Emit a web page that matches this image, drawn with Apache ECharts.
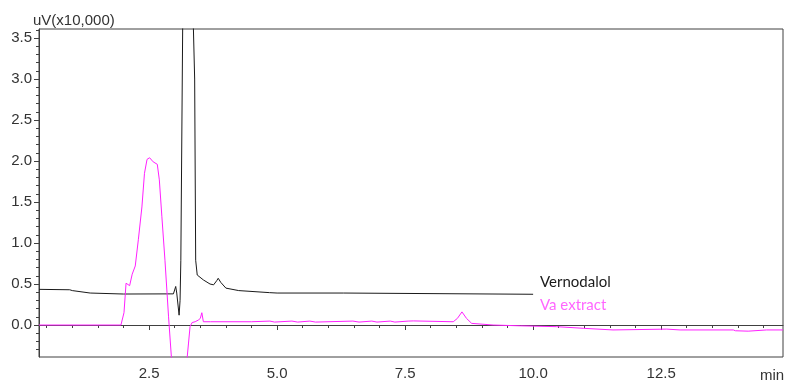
<!DOCTYPE html>
<html>
<head>
<meta charset="utf-8">
<script src="https://cdn.jsdelivr.net/npm/echarts@6/dist/echarts.min.js"></script>
<style>
  html, body { margin: 0; padding: 0; background: #fff; }
  #chart { width: 785px; height: 383px; }
</style>
</head>
<body>
<div id="chart"></div>
<script>
// Retention time (min) and detector response (uV x10,000) for each trace
const vernodalolTime = [0.35, 0.95, 1.0, 1.35, 1.37, 2.0, 2.975, 3.02, 3.04, 3.086, 3.105, 3.12, 3.158, 3.26, 3.362, 3.39, 3.41, 3.44, 3.56, 3.69, 3.76, 3.82, 3.85, 3.9, 4.0, 4.25, 4.85, 5.0, 6.3, 6.32, 10.0];
const vernodalolSignal = [0.435, 0.43, 0.42, 0.39, 0.385, 0.378, 0.38, 0.47, 0.39, 0.12, 0.3, 0.79, 3.8, 4.6, 3.7, 3.0, 0.79, 0.61, 0.55, 0.5, 0.49, 0.54, 0.57, 0.52, 0.45, 0.42, 0.395, 0.39, 0.39, 0.375, 0.375];

const extractTime = [0.35, 1.95, 1.98, 2.01, 2.05, 2.08, 2.12, 2.17, 2.23, 2.29, 2.36, 2.41, 2.46, 2.51, 2.58, 2.66, 2.70, 2.75, 2.81, 2.88, 2.94, 3.05, 3.15, 3.24, 3.27, 3.30, 3.34, 3.40, 3.46, 3.50, 3.53, 3.56, 3.7, 4.5, 4.86, 4.95, 5.29, 5.4, 5.64, 5.75, 6.48, 6.6, 6.85, 6.95, 7.21, 7.3, 7.56, 7.66, 8.44, 8.52, 8.61, 8.70, 8.80, 9.22, 9.75, 10.46, 10.98, 11.56, 12.61, 12.87, 13.91, 13.95, 14.2, 14.56, 14.88];
const extractSignal = [0.0, 0.0, 0.02, 0.15, 0.51, 0.53, 0.48, 0.62, 0.72, 1.04, 1.44, 1.85, 2.02, 2.04, 1.99, 1.96, 1.77, 1.32, 0.79, 0.10, -0.43, -1.2, -1.2, -0.42, -0.22, -0.02, 0.03, 0.04, 0.06, 0.08, 0.15, 0.04, 0.04, 0.04, 0.048, 0.036, 0.048, 0.036, 0.048, 0.036, 0.048, 0.036, 0.048, 0.036, 0.048, 0.036, 0.048, 0.05, 0.04, 0.08, 0.16, 0.08, 0.02, 0.0, -0.01, -0.02, -0.04, -0.06, -0.05, -0.06, -0.06, -0.07, -0.075, -0.06, -0.06];

// Axis ticks and labels
const timeLabels = [2.5, 5.0, 7.5, 10.0, 12.5];
const timeMinorTicks = [0.5, 1.0, 1.5, 2.0, 2.5, 3.0, 3.5, 4.0, 4.5, 5.0, 5.5, 6.0, 6.5, 7.0, 7.5, 8.0, 8.5, 9.0, 9.5, 10.0, 10.5, 11.0, 11.5, 12.0, 12.5, 13.0, 13.5, 14.0, 14.5];
const signalLabels = [0.0, 0.5, 1.0, 1.5, 2.0, 2.5, 3.0, 3.5];
const signalMinorTicks = [-0.3, -0.2, -0.1, 0.0, 0.1, 0.2, 0.3, 0.4, 0.5, 0.6, 0.7, 0.8, 0.9, 1.0, 1.1, 1.2, 1.3, 1.4, 1.5, 1.6, 1.7, 1.8, 1.9, 2.0, 2.1, 2.2, 2.3, 2.4, 2.5, 2.6, 2.7, 2.8, 2.9, 3.0, 3.1, 3.2, 3.3, 3.4, 3.5, 3.6];

const seriesNames = ['Vernodalol', 'Va extract'];
const xRange = [0.35, 14.88];
const yRange = [-0.39, 3.61];

const pair = (xs, ys) => xs.map((x, i) => [x, ys[i]]);

const axisColor = '#404040';
const labelFont = { fontFamily: '"Liberation Sans", Arial, sans-serif', fontSize: 15, color: '#333' };

const chart = echarts.init(document.getElementById('chart'), null, { renderer: 'canvas' });

chart.setOption({
  animation: false,
  backgroundColor: '#fff',
  grid: {
    left: 39, top: 29, right: 2, bottom: 26,
    show: true, borderColor: axisColor, borderWidth: 1, backgroundColor: 'transparent'
  },
  xAxis: [
    {
      type: 'value', min: xRange[0], max: xRange[1], position: 'bottom',
      axisLine: { show: true, lineStyle: { color: axisColor, width: 1 } },
      axisTick: { show: true, customValues: timeLabels, length: 5, lineStyle: { color: axisColor } },
      axisLabel: Object.assign({ customValues: timeLabels, margin: 9, formatter: v => v.toFixed(1) }, labelFont),
      splitLine: { show: false }
    },
    {
      type: 'value', min: xRange[0], max: xRange[1], position: 'bottom', offset: 0,
      axisLine: { show: false },
      axisTick: { show: true, customValues: timeMinorTicks, length: 3, lineStyle: { color: axisColor } },
      axisLabel: { show: false },
      splitLine: { show: false }
    }
  ],
  yAxis: [
    {
      type: 'value', min: yRange[0], max: yRange[1], position: 'left',
      axisLine: { show: true, lineStyle: { color: axisColor, width: 1 } },
      axisTick: { show: true, customValues: signalLabels, length: 5, lineStyle: { color: axisColor } },
      axisLabel: Object.assign({ customValues: signalLabels, margin: 7, formatter: v => v.toFixed(1) }, labelFont),
      splitLine: { show: false }
    },
    {
      type: 'value', min: yRange[0], max: yRange[1], position: 'left', offset: 0,
      axisLine: { show: false },
      axisTick: { show: true, customValues: signalMinorTicks, length: 3, lineStyle: { color: axisColor } },
      axisLabel: { show: false },
      splitLine: { show: false }
    }
  ],
  series: [
    {
      name: seriesNames[0], type: 'line', xAxisIndex: 0, yAxisIndex: 0,
      data: pair(vernodalolTime, vernodalolSignal),
      showSymbol: false, clip: true,
      lineStyle: { color: '#1a1a1a', width: 1 }
    },
    {
      name: seriesNames[1], type: 'line', xAxisIndex: 0, yAxisIndex: 0,
      data: pair(extractTime, extractSignal),
      showSymbol: false, clip: true,
      lineStyle: { color: '#ff20ff', width: 1 }
    }
  ],
  graphic: [
    { type: 'text', left: 33, top: 13, style: { text: 'uV(x10,000)', font: '15px "Liberation Sans", Arial, sans-serif', fill: '#333' } },
    { type: 'text', left: 760, top: 368, style: { text: 'min', font: '15px "Liberation Sans", Arial, sans-serif', fill: '#333' } },
    { type: 'text', left: 540, top: 275, style: { text: seriesNames[0], font: '15px Lato, "Open Sans", sans-serif', fill: '#1a1a1a' } },
    { type: 'text', left: 540, top: 298, style: { text: seriesNames[1], font: '15px Lato, "Open Sans", sans-serif', fill: '#ff66ff' } }
  ]
});
</script>
</body>
</html>
